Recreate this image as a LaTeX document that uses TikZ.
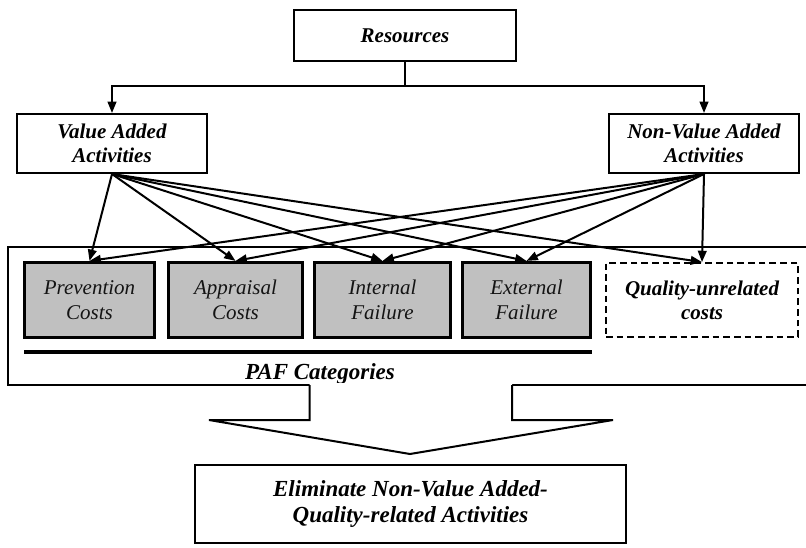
\documentclass[tikz,border=0pt]{standalone}
\usepackage{fontspec}
\setmainfont{Liberation Serif}
\usetikzlibrary{arrows.meta}
\definecolor{boxgray}{HTML}{C0C0C0}
\tikzset{
  bi/.style={font=\fontsize{15.75}{18}\selectfont\bfseries\itshape},
  bibig/.style={font=\fontsize{17.25}{19}\selectfont\bfseries\itshape},
  plainbox/.style={draw, line width=1.5pt, fill=white, align=center, inner sep=0pt, bi},
  costbox/.style={draw, line width=2.4pt, fill=boxgray, align=center, inner sep=0pt,
    minimum height=56.25pt, text=black!92, font=\fontsize{15.75}{18.5}\selectfont\itshape},
  qubox/.style={draw, line width=1.4pt, dash pattern=on 5pt off 3pt, align=center, inner sep=0pt,
    minimum width=144pt, minimum height=55.5pt, bi},
  arr/.style={line width=1.5pt, -{Triangle[length=8.5pt,width=6.5pt]}},
  conn/.style={line width=1.5pt}
}
\begin{document}
\begin{tikzpicture}[x=0.75pt,y=-0.75pt]
\useasboundingbox (0,0) rectangle (806,547);
% outer container
\draw[line width=1.5pt] (8,247) rectangle (812,385);
% top nodes
\node[plainbox, minimum width=166pt, minimum height=38pt] (res) at (405,35.5) {Resources};
\node[plainbox, minimum width=142.5pt, minimum height=44.25pt] (va) at (112,143.5) {Value Added\\Activities};
\node[plainbox, minimum width=142.5pt, minimum height=44.25pt] (nva) at (704,143.5) {Non-Value Added\\Activities};
% cost boxes
\node[costbox, minimum width=97.5pt] (prev) at (89.5,300) {Prevention\\Costs};
\node[costbox, minimum width=100.5pt] (appr) at (235.5,300) {Appraisal\\Costs};
\node[costbox, minimum width=102pt] (intf) at (382.5,300) {Internal\\Failure};
\node[costbox, minimum width=96pt] (extf) at (526.5,300) {External\\Failure};
\node[qubox] (qu) at (702,300) {Quality-unrelated\\costs};
% PAF bar and label
\coordinate (barL) at (24,352);
\coordinate (barR) at (592,352);
\draw[line width=3pt] (barL) -- (barR);
\node[bibig, inner sep=0pt] (paf) at (320,374) {PAF Categories};
% resources split
\coordinate (split) at (405,86);
\draw[conn] (res.south) -- (split);
\draw[arr] (split) -| (va.north);
\draw[arr] (split) -| (nva.north);
% connectors from value added / non-value added
\foreach \t in {prev,appr,intf,extf,qu}{
  \draw[arr] (va.south) -- (\t.north);
  \draw[arr] (nva.south) -- (\t.north);
}
% block arrow
\fill[white] (309.5,383) -- (309.5,420) -- (209,420) -- (410,454) -- (613,420) -- (512,420) -- (512,383) -- cycle;
\draw[line width=1.5pt, line join=miter] (309.5,385) -- (309.5,420) -- (209,420) -- (410,454) -- (613,420) -- (512,420) -- (512,385);
% bottom box
\node[plainbox, bibig, minimum width=323.25pt, minimum height=58.5pt, font=\fontsize{17.25}{19}\selectfont\bfseries\itshape] (elim) at (410.5,504) {Eliminate Non-Value Added-\\Quality-related Activities};
\end{tikzpicture}
\end{document}
